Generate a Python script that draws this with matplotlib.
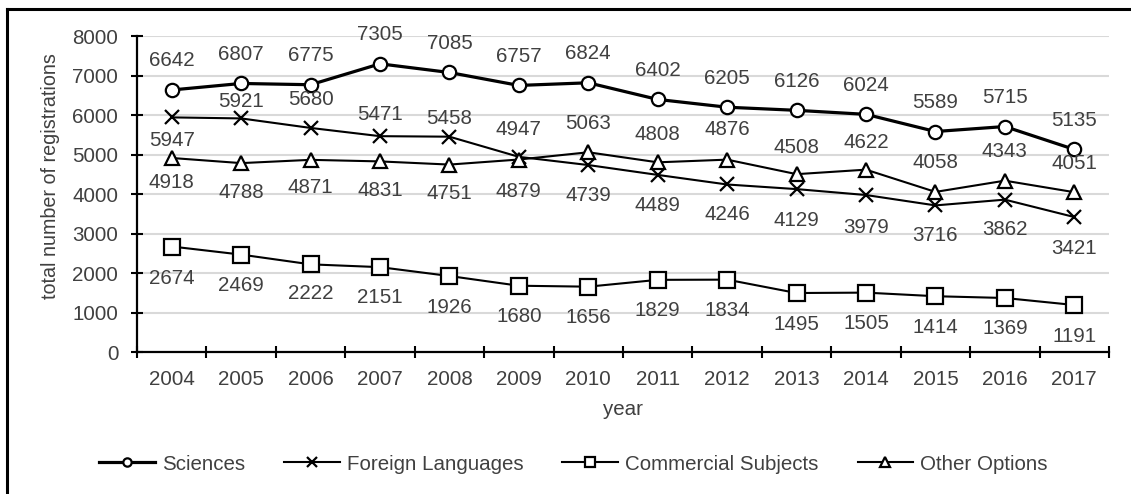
import numpy as np
import matplotlib.pyplot as plt
from matplotlib.lines import Line2D

plt.rcParams['font.family'] = ['Liberation Sans', 'DejaVu Sans']

years = ['2004', '2005', '2006', '2007', '2008', '2009', '2010',
         '2011', '2012', '2013', '2014', '2015', '2016', '2017']
sciences = [6642, 6807, 6775, 7305, 7085, 6757, 6824, 6402, 6205, 6126, 6024, 5589, 5715, 5135]
foreign = [5947, 5921, 5680, 5471, 5458, 4947, 4739, 4489, 4246, 4129, 3979, 3716, 3862, 3421]
commercial = [2674, 2469, 2222, 2151, 1926, 1680, 1656, 1829, 1834, 1495, 1505, 1414, 1369, 1191]
other = [4918, 4788, 4871, 4831, 4751, 4879, 5063, 4808, 4876, 4508, 4622, 4058, 4343, 4051]

# label offsets in pixels (negative = above the point)
sci_off = [-29] * 14
for_off = [23, -17, -28, -22, -18, -27, 30, 31, 30, 31, 32, 30, 30, 31]
com_off = [32, 31, 29, 30, 31, 31, 31, 31, 31, 31, 31, 31, 31, 31]
oth_off = [25, 29, 28, 29, 29, 32, -29, -28, -30, -27, -27, -29, -29, -29]

txt_col = '#404040'
fs = 14.8
px = 0.72  # points per pixel at dpi 100

fig = plt.figure(figsize=(11.31, 4.94), dpi=100)
ax = fig.add_axes([137 / 1131, 1 - 352 / 494, (1109 - 137) / 1131, (352 - 36.4) / 494])

x = np.arange(len(years))
series = [
    (sciences, 'Sciences', 'o', 9.6, 2.3, sci_off),
    (foreign, 'Foreign Languages', 'x', 9.4, 1.5, for_off),
    (commercial, 'Commercial Subjects', 's', 11.3, 1.5, com_off),
    (other, 'Other Options', '^', 10.0, 1.5, oth_off),
]
for vals, name, mk, ms, lw, offs in series:
    ax.plot(x, vals, color='black', lw=lw, marker=mk, ms=ms, mfc='white',
            mec='black', mew=1.6, zorder=3)
    for xi, v, o in zip(x, vals, offs):
        ax.annotate(str(v), (xi, v), xytext=(0, -o * px), textcoords='offset points',
                    ha='center', va='center', fontsize=fs, color=txt_col, zorder=4)

ax.set_xlim(-0.5, 13.5)
ax.set_ylim(0, 8000)
ax.set_yticks(range(0, 8001, 1000))
ax.set_xticks(x)
ax.set_xticklabels(years)
ax.set_xticks(np.arange(-0.5, 14, 1), minor=True)
ax.tick_params(axis='x', which='major', length=0, pad=13, labelsize=fs, labelcolor=txt_col)
ax.tick_params(axis='x', which='minor', direction='inout', length=9, width=1.5)
ax.tick_params(axis='y', direction='inout', length=9, width=1.5, pad=9, labelsize=fs, labelcolor=txt_col)

ax.grid(axis='y', color='#d9d9d9', lw=1.5, zorder=0)
ax.set_axisbelow(True)
for s in ['top', 'right']:
    ax.spines[s].set_visible(False)
for s in ['left', 'bottom']:
    ax.spines[s].set_linewidth(1.6)

ax.set_xlabel('year', fontsize=fs, color=txt_col, labelpad=8)
ax.set_ylabel('total number of registrations', fontsize=14.2, color=txt_col)
ax.yaxis.set_label_coords(-0.079, 0.557)

handles = [
    Line2D([], [], color='black', lw=2.3, marker='o', ms=6, mfc='white', mew=1.6),
    Line2D([], [], color='black', lw=1.5, marker='x', ms=6.5, mew=1.6),
    Line2D([], [], color='black', lw=1.5, marker='s', ms=6.5, mfc='white', mew=1.6),
    Line2D([], [], color='black', lw=1.5, marker='^', ms=6.5, mfc='white', mew=1.6),
]
fig.legend(handles, [s[1] for s in series], loc='center', bbox_to_anchor=(0.507, 1 - 464 / 494),
           ncol=4, frameon=False, fontsize=fs, handlelength=2.7, handletextpad=0.35,
           columnspacing=1.9, labelcolor=txt_col)

# outer chart border (top and left edges visible)
fig.add_artist(Line2D([7 / 1131, 1], [1 - 9 / 494, 1 - 9 / 494], color='black', lw=2.2,
                      transform=fig.transFigure))
fig.add_artist(Line2D([7 / 1131, 7 / 1131], [0, 1 - 9 / 494], color='black', lw=2.2,
                      transform=fig.transFigure))

fig.savefig('out.png', dpi=100)
